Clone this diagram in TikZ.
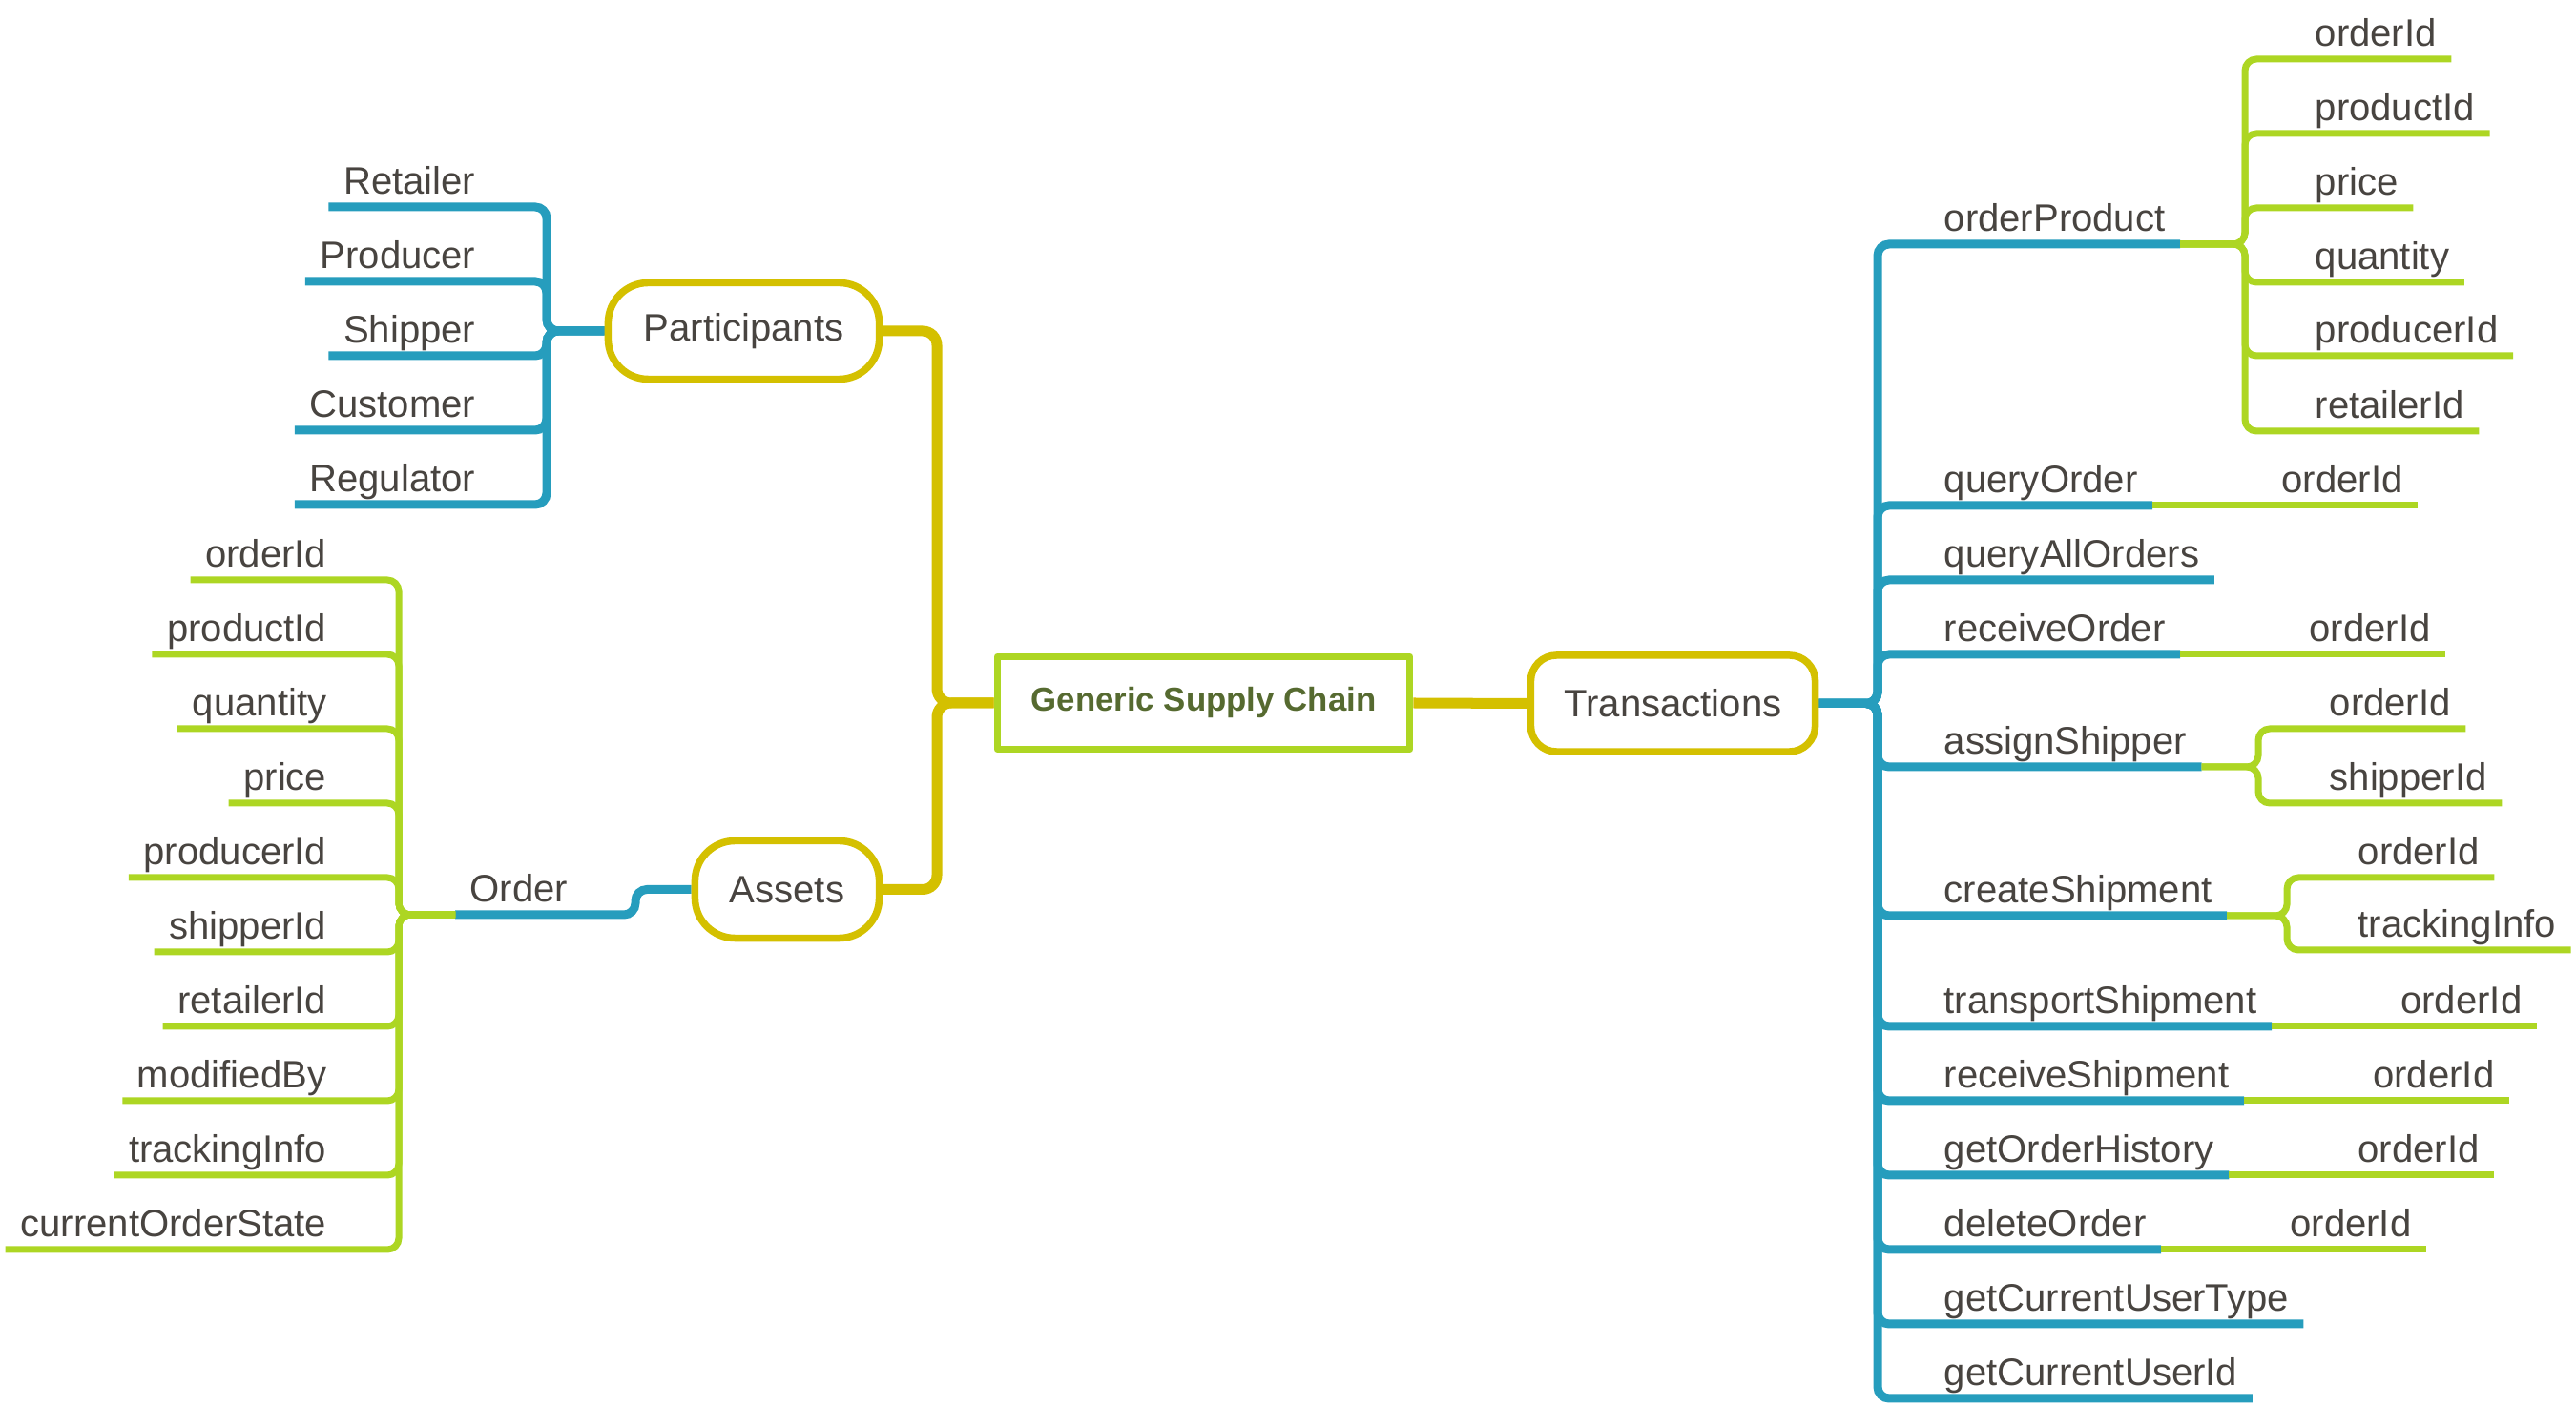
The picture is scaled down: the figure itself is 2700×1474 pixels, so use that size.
\documentclass[tikz,border=0pt]{standalone}
\usepackage{fontspec}
\setmainfont{Liberation Sans}
\usetikzlibrary{calc,backgrounds}
\definecolor{cblue}{RGB}{38,157,189}
\definecolor{cyel}{RGB}{212,192,0}
\definecolor{clime}{RGB}{173,214,35}
\definecolor{ctext}{RGB}{72,68,64}
\definecolor{ccenter}{RGB}{86,106,48}
\begin{document}
\begin{tikzpicture}[x=0.01cm,y=-0.01cm,line cap=round,line join=round,
  tx/.style={font=\fontsize{11.4}{13.7}\selectfont,text=ctext,inner xsep=0.15cm,inner ysep=0pt},
  rt/.style={tx,anchor=base west,yshift=0.13cm},
  lt/.style={tx,anchor=base east,yshift=0.13cm},
  ch/.style={tx,anchor=base east},
  yline/.style={draw=cyel,line width=0.11cm,rounded corners=0.15cm},
  bline/.style={draw=cblue,line width=0.09cm,rounded corners=0.12cm},
  gline/.style={draw=clime,line width=0.07cm,rounded corners=0.12cm},
  mainbox/.style={draw=cyel,line width=0.075cm,fill=white,text=ctext,font=\fontsize{11.4}{13.7}\selectfont,inner sep=0pt},
  centerbox/.style={draw=clime,line width=0.075cm,fill=white,text=ccenter,font=\fontsize{9.9}{12}\selectfont\bfseries,inner sep=0pt}]
\useasboundingbox (0,0) rectangle (2700,1474);

% main nodes
\node[centerbox,minimum width=4.32cm,minimum height=0.97cm] (C) at (1261.5,737) {Generic Supply Chain};
\node[mainbox,rounded corners=0.27cm,minimum width=2.98cm,minimum height=1.01cm] (T) at (1753.5,737.5) {Transactions};
\node[mainbox,rounded corners=0.42cm,minimum width=2.84cm,minimum height=1.01cm] (P) at (779.5,347) {Participants};
\node[mainbox,rounded corners=0.42cm,minimum width=1.93cm,minimum height=1.02cm] (A) at (825,932.5) {Assets};

% participants
\node[lt] (p1) at (514,217) {Retailer};
\node[lt] (p2) at (514,295) {Producer};
\node[lt] (p3) at (514,373) {Shipper};
\node[lt] (p4) at (514,451) {Customer};
\node[lt] (p5) at (514,529) {Regulator};

% assets
\node[rt] (o) at (477,959) {Order};
\node[lt] (a1) at (358,608) {orderId};
\node[lt] (a2) at (358,686) {productId};
\node[lt] (a3) at (358,764) {quantity};
\node[lt] (a4) at (358,842) {price};
\node[lt] (a5) at (358,920) {producerId};
\node[lt] (a6) at (358,998) {shipperId};
\node[lt] (a7) at (358,1076) {retailerId};
\node[lt] (a8) at (358,1154) {modifiedBy};
\node[lt] (a9) at (358,1232) {trackingInfo};
\node[lt] (a10) at (358,1310) {currentOrderState};

% transactions
\node[rt] (t1) at (2022,256) {orderProduct};
\node[rt] (t2) at (2022,530) {queryOrder};
\node[rt] (t3) at (2022,608) {queryAllOrders};
\node[rt] (t4) at (2022,686) {receiveOrder};
\node[rt] (t5) at (2022,804) {assignShipper};
\node[rt] (t6) at (2022,960) {createShipment};
\node[rt] (t7) at (2022,1076) {transportShipment};
\node[rt] (t8) at (2022,1154) {receiveShipment};
\node[rt] (t9) at (2022,1232) {getOrderHistory};
\node[rt] (t10) at (2022,1310) {deleteOrder};
\node[rt] (t11) at (2022,1388) {getCurrentUserType};
\node[rt] (t12) at (2022,1466) {getCurrentUserId};

% orderProduct children
\node[rt] (c1) at (2411,62) {orderId};
\node[rt] (c2) at (2411,140) {productId};
\node[rt] (c3) at (2411,218) {price};
\node[rt] (c4) at (2411,296) {quantity};
\node[rt] (c5) at (2411,373) {producerId};
\node[rt] (c6) at (2411,452) {retailerId};

% assignShipper children
\node[rt] (s1) at (2426,764) {orderId};
\node[rt] (s2) at (2426,842) {shipperId};

% createShipment children
\node[rt] (k1) at (2456,920) {orderId};
\node[rt] (k2) at (2456,996) {trackingInfo};

% single children
\node[ch] (q2) at ($(t2.base east)+(278,0)$) {orderId};
\node[ch] (q4) at ($(t4.base east)+(278,0)$) {orderId};
\node[ch] (q7) at ($(t7.base east)+(278,0)$) {orderId};
\node[ch] (q8) at ($(t8.base east)+(278,0)$) {orderId};
\node[ch] (q9) at ($(t9.base east)+(278,0)$) {orderId};
\node[ch] (q10) at ($(t10.base east)+(278,0)$) {orderId};

% bar coordinates
\coordinate (lbar) at (982,737);
\coordinate (pbar) at (573,347);
\coordinate (ojog) at (666,959);
\coordinate (obar) at (418,959);
\coordinate (tbar) at (1968,737.5);
\coordinate (b1) at (2353,256);
\coordinate (b2) at (2367,804);
\coordinate (b3) at (2397,960);

\begin{pgfonlayer}{background}
% main yellow
\draw[yline] (C.west) -| (lbar |- P.east) -- (P.east);
\draw[yline] (C.west) -| (lbar |- A.east) -- (A.east);
\draw[yline] (C.east) -- (T.west);

% blue
\foreach \i in {1,...,5}
  \draw[bline] (P.west) -| ($(pbar |- p\i.base)+(0,13)$) -- ($(p\i.base west)+(0,13)$);
\draw[bline] (A.west) -| (ojog) -- ($(o.base west)+(0,13)$);
\foreach \i in {1,...,12}
  \draw[bline] (T.east) -| ($(tbar |- t\i.base)+(0,13)$) -- ($(t\i.base east)+(0,13)$);

% lime
\foreach \i in {1,...,10}
  \draw[gline] ($(o.base west)+(0,13)$) -| ($(obar |- a\i.base)+(0,13)$) -- ($(a\i.base west)+(0,13)$);
\foreach \i in {1,...,6}
  \draw[gline] ($(t1.base east)+(0,13)$) -| ($(b1 |- c\i.base)+(0,13)$) -- ($(c\i.base east)+(0,13)$);
\foreach \i in {1,2}
  \draw[gline] ($(t5.base east)+(0,13)$) -| ($(b2 |- s\i.base)+(0,13)$) -- ($(s\i.base east)+(0,13)$);
\foreach \i in {1,2}
  \draw[gline] ($(t6.base east)+(0,13)$) -| ($(b3 |- k\i.base)+(0,13)$) -- ($(k\i.base east)+(0,13)$);
\foreach \i in {2,4,7,8,9,10}
  \draw[gline] ($(t\i.base east)+(0,13)$) -- ($(q\i.base east)+(0,13)$);
\end{pgfonlayer}
\end{tikzpicture}
\end{document}
